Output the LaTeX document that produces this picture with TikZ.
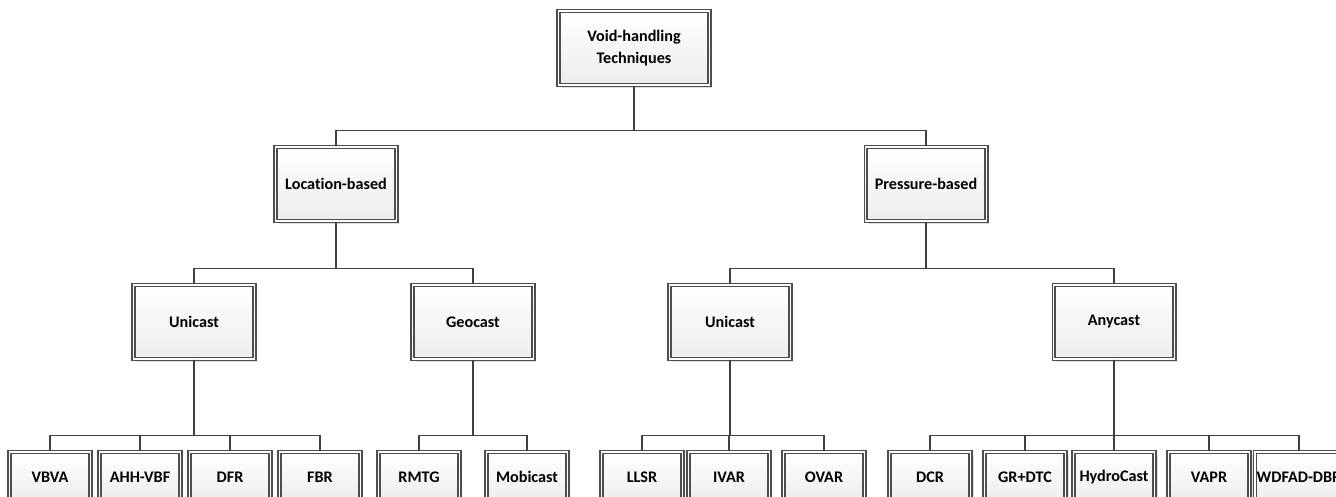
\documentclass[tikz,border=0pt]{standalone}
\usepackage{fontspec}
\setmainfont{Carlito}[Ligatures={NoCommon,NoRare}]
\usetikzlibrary{shadows}
\usetikzlibrary{calc,positioning}
\definecolor{boxline}{HTML}{4D4D4D}
\definecolor{linkline}{HTML}{404040}

\begin{document}
\begin{tikzpicture}[x=0.02cm, y=-0.02cm,
    box/.style={draw=boxline, line width=0.6pt, double=white, double distance=1.1pt,
        top color=white, bottom color=gray!14,
        drop shadow={shadow xshift=0.06cm, shadow yshift=-0.06cm, fill=gray!25, opacity=1},
        minimum width=2.42cm, minimum height=1.48cm, align=center, inner sep=1pt,
        font=\fontsize{9.2}{12.2}\selectfont\bfseries},
    leaf/.style={box, minimum width=1.62cm, minimum height=1.0cm},
    link/.style={draw=linkline, line width=1.1pt}]

    \useasboundingbox (0,0) rectangle (1336,497);
    \clip (0,0) rectangle (1336,497);

    % levels
    \node[box, minimum width=3.02cm] (root) at (634,48) {Void-handling\\Techniques};

    \node[box] (loc)  at (336,184) {Location-based};
    \node[box] (pres) at (926,184) {Pressure-based};

    \node[box] (luni) at (194,322) {Unicast};
    \node[box] (geo)  at (473,322) {Geocast};
    \node[box] (puni) at (730,322) {Unicast};
    \node[box] (any)  at (1114,322) {Anycast};

    % protocols
    \node[leaf] (vbva)  at (50,477)   {VBVA};
    \node[leaf] (ahh)   at (140,477)  {AHH-VBF};
    \node[leaf] (dfr)   at (230,477)  {DFR};
    \node[leaf] (fbr)   at (320,477)  {FBR};
    \node[leaf] (rmtg)  at (419,477)  {RMTG};
    \node[leaf] (mobi)  at (527,477)  {Mobicast};
    \node[leaf] (llsr)  at (642,477)  {LLSR};
    \node[leaf] (ivar)  at (729,477)  {IVAR};
    \node[leaf] (ovar)  at (824,477)  {OVAR};
    \node[leaf] (dcr)   at (930,477)  {DCR};
    \node[leaf] (grdtc) at (1025,477) {GR+DTC};
    \node[leaf] (hydro) at (1114,477) {HydroCast};
    \node[leaf] (vapr)  at (1209,477) {VAPR};
    \node[leaf] (wdfad) at (1299,477) {WDFAD-DBR};

    \foreach \c in {loc,pres}
        \draw[link] (root.south) |- ($(\c.north)+(0,-16)$) -| (\c.north);
    \foreach \c in {luni,geo}
        \draw[link] (loc.south) |- ($(\c.north)+(0,-16)$) -| (\c.north);
    \foreach \c in {puni,any}
        \draw[link] (pres.south) |- ($(\c.north)+(0,-16)$) -| (\c.north);
    \foreach \c in {vbva,ahh,dfr,fbr}
        \draw[link] (luni.south) |- ($(\c.north)+(0,-16)$) -| (\c.north);
    \foreach \c in {rmtg,mobi}
        \draw[link] (geo.south) |- ($(\c.north)+(0,-16)$) -| (\c.north);
    \foreach \c in {llsr,ivar,ovar}
        \draw[link] (puni.south) |- ($(\c.north)+(0,-16)$) -| (\c.north);
    \foreach \c in {dcr,grdtc,hydro,vapr,wdfad}
        \draw[link] (any.south) |- ($(\c.north)+(0,-16)$) -| (\c.north);

\end{tikzpicture}
\end{document}
